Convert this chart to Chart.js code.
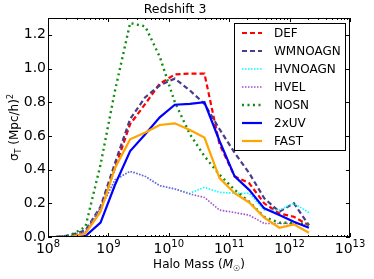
<!DOCTYPE html>
<html>
<head>
<meta charset="utf-8">
<script src="https://cdn.jsdelivr.net/npm/chart.js@4"></script>
<style>
  body { margin: 0; background: #fff; }
  canvas { display: block; }
</style>
</head>
<body>
<canvas id="chart" width="374" height="279"></canvas>
<script>
const logMass = [8.13, 8.37, 8.62, 8.87, 9.11, 9.36, 9.61, 9.85, 10.10, 10.35, 10.59, 10.84, 11.09, 11.33, 11.58, 11.83, 12.07, 12.32];

const def = [0, 0.005, 0.03, 0.17, 0.41, 0.67, 0.79, 0.91, 0.965, 0.97, 0.97, 0.55, 0.36, 0.32, 0.2, 0.14, 0.12, 0.07];
const wmnoagn = [0, 0.01, 0.04, 0.18, 0.44, 0.70, 0.83, 0.90, 0.94, 0.87, 0.79, 0.64, 0.50, 0.38, 0.23, 0.15, 0.2, 0.07];
const hvnoagn = [0, 0.005, 0.03, 0.17, 0.34, 0.39, 0.36, 0.305, 0.285, 0.26, 0.295, 0.265, 0.26, 0.26, 0.16, 0.16, 0.2, 0.145];
const hvel = [0, 0.005, 0.03, 0.17, 0.34, 0.39, 0.36, 0.305, 0.285, 0.255, 0.235, 0.16, 0.145, 0.13, 0.08, 0.08, 0.08, 0.07];
const nosn = [0, 0.01, 0.06, 0.43, 0.87, 1.27, 1.25, 1.07, 0.80, 0.61, 0.48, 0.37, 0.28, 0.21, 0.12, 0.085, 0.085, 0.075];
const uv2x = [0, 0, 0.005, 0.085, 0.31, 0.51, 0.61, 0.71, 0.785, 0.79, 0.80, 0.57, 0.36, 0.28, 0.17, 0.13, 0.09, 0.055];
const fast = [0, 0, 0.02, 0.15, 0.41, 0.58, 0.62, 0.665, 0.675, 0.635, 0.59, 0.35, 0.26, 0.205, 0.115, 0.055, 0.075, 0.025];

const xTicks = [1e8, 1e9, 1e10, 1e11, 1e12, 1e13];
const xTickExp = ['8', '9', '10', '11', '12', '13'];
const yTicks = [0, 0.2, 0.4, 0.6, 0.8, 1.0, 1.2];
const yTickLabels = ['0.0', '0.2', '0.4', '0.6', '0.8', '1.0', '1.2'];

function pts(vals) {
    return vals.map((v, i) => ({ x: Math.pow(10, logMass[i]), y: v }));
}

function series(label, vals, color, width, dash, order) {
    return {
        label: label,
        data: pts(vals),
        borderColor: color,
        borderWidth: width,
        borderDash: dash,
        pointRadius: 0,
        tension: 0,
        fill: false,
        order: order
    };
}

const FONT = 'DejaVu Sans';

const frame = {
    id: 'frame',
    afterDraw(chart) {
        const ctx = chart.ctx;
        const a = chart.chartArea;
        const xs = chart.scales.x, ys = chart.scales.y;
        ctx.save();
        ctx.strokeStyle = '#000';
        ctx.lineWidth = 1;
        ctx.strokeRect(a.left + 0.5, a.top + 0.5, a.right - a.left - 1, a.bottom - a.top - 1);
        ctx.beginPath();
        for (let e = 8; e <= 13; e++) {
            for (let m = 1; m <= 9; m++) {
                const v = m * Math.pow(10, e);
                if (v > 1e13) break;
                const px = Math.round(xs.getPixelForValue(v)) + 0.5;
                const len = m === 1 ? 4 : 2;
                ctx.moveTo(px, a.bottom); ctx.lineTo(px, a.bottom - len);
                ctx.moveTo(px, a.top); ctx.lineTo(px, a.top + len);
            }
        }
        yTicks.forEach(v => {
            const py = Math.round(ys.getPixelForValue(v)) + 0.5;
            ctx.moveTo(a.left, py); ctx.lineTo(a.left + 4, py);
            ctx.moveTo(a.right, py); ctx.lineTo(a.right - 4, py);
        });
        ctx.stroke();

        // x tick labels: 10 with raised exponent
        ctx.fillStyle = '#000';
        ctx.textBaseline = 'alphabetic';
        xTicks.forEach((v, i) => {
            const px = xs.getPixelForValue(v);
            ctx.font = '14px ' + FONT;
            const wb = ctx.measureText('10').width;
            ctx.font = '10px ' + FONT;
            const we = ctx.measureText(xTickExp[i]).width;
            let x = px - (wb + we) / 2;
            ctx.font = '14px ' + FONT;
            ctx.fillText('10', x, 253);
            ctx.font = '10px ' + FONT;
            ctx.fillText(xTickExp[i], x + wb, 247);
        });

        // axis titles
        ctx.font = 'italic 12px ' + FONT;
        const wM = ctx.measureText('M').width;
        ctx.font = '8px ' + FONT;
        const wS = ctx.measureText('☉').width;
        ctx.font = '12px ' + FONT;
        const t1 = 'Halo Mass (', t3 = ')';
        const w1 = ctx.measureText(t1).width, w3 = ctx.measureText(t3).width;
        let x = (a.left + a.right) / 2 - (w1 + wM + wS + w3) / 2;
        const by = 268;
        ctx.fillText(t1, x, by); x += w1;
        ctx.font = 'italic 12px ' + FONT; ctx.fillText('M', x, by); x += wM;
        ctx.font = '8px ' + FONT; ctx.fillText('☉', x, by + 3); x += wS;
        ctx.font = '12px ' + FONT; ctx.fillText(t3, x, by);

        ctx.translate(18, (a.top + a.bottom) / 2);
        ctx.rotate(-Math.PI / 2);
        ctx.font = '12px ' + FONT;
        const ws = ctx.measureText('σ').width;
        const wp = ctx.measureText(' (Mpc/h)').width;
        ctx.font = '8px ' + FONT;
        const wT = ctx.measureText('T').width;
        const w2 = ctx.measureText('2').width;
        let y0 = -(ws + wT + wp + w2) / 2;
        ctx.font = '12px ' + FONT; ctx.fillText('σ', y0, 0); y0 += ws;
        ctx.font = '8px ' + FONT; ctx.fillText('T', y0, 3); y0 += wT;
        ctx.font = '12px ' + FONT; ctx.fillText(' (Mpc/h)', y0, 0); y0 += wp;
        ctx.font = '8px ' + FONT; ctx.fillText('2', y0, -5);
        ctx.restore();
    }
};

const boxLegend = {
    id: 'boxLegend',
    afterDraw(chart) {
        const ctx = chart.ctx;
        const left = 234, top = 23, w = 111, h = 127;
        ctx.save();
        ctx.fillStyle = '#fff';
        ctx.fillRect(left, top, w, h);
        ctx.strokeStyle = '#000';
        ctx.lineWidth = 1;
        ctx.strokeRect(left + 0.5, top + 0.5, w, h);
        ctx.font = '12px ' + FONT;
        ctx.textBaseline = 'middle';
        chart.data.datasets.forEach((ds, i) => {
            const y = top + 10 + i * 18;
            ctx.beginPath();
            ctx.strokeStyle = ds.borderColor;
            ctx.lineWidth = ds.borderWidth;
            ctx.setLineDash(ds.borderDash);
            ctx.moveTo(242, y);
            ctx.lineTo(262, y);
            ctx.stroke();
            ctx.setLineDash([]);
            ctx.fillStyle = '#000';
            ctx.fillText(ds.label, 274, y + 1);
        });
        ctx.restore();
    }
};

new Chart(document.getElementById('chart').getContext('2d'), {
    type: 'line',
    data: {
        datasets: [
            series('DEF', def, '#ff0000', 2.2, [5, 3], 7),
            series('WMNOAGN', wmnoagn, '#483d8b', 2.2, [5, 3], 6),
            series('HVNOAGN', hvnoagn, '#00ffff', 1.6, [1.5, 1.5], 5),
            series('HVEL', hvel, '#a050c8', 1.6, [1.5, 1.5], 4),
            series('NOSN', nosn, '#118c11', 2.4, [2, 3.5], 3),
            series('2xUV', uv2x, '#0000ff', 2.2, [], 2),
            series('FAST', fast, '#ffa500', 2.2, [], 1)
        ]
    },
    options: {
        responsive: false,
        devicePixelRatio: 1,
        animation: false,
        layout: { padding: { left: 0, right: 24, top: 0, bottom: 0 } },
        plugins: {
            legend: { display: false },
            tooltip: { enabled: false },
            title: {
                display: true,
                text: 'Redshift 3',
                color: '#000',
                font: { family: FONT, size: 12.5, weight: 'normal' },
                padding: { top: 2, bottom: 1 }
            }
        },
        scales: {
            x: {
                type: 'logarithmic',
                min: 1e8,
                max: 1e13,
                grid: { display: false, drawTicks: false },
                border: { display: false },
                afterBuildTicks: s => { s.ticks = xTicks.map(v => ({ value: v })); },
                afterFit: s => { s.height = 279 - 237; },
                ticks: { display: false }
            },
            y: {
                min: 0,
                max: 1.3,
                grid: { display: false, drawTicks: false },
                border: { display: false },
                afterBuildTicks: s => { s.ticks = yTicks.map(v => ({ value: v })); },
                afterFit: s => { s.width = 48; },
                ticks: {
                    color: '#000',
                    padding: 2,
                    autoSkip: false,
                    font: { family: FONT, size: 14 },
                    callback: (v, i) => yTickLabels[i]
                }
            }
        }
    },
    plugins: [frame, boxLegend]
});
</script>
</body>
</html>
